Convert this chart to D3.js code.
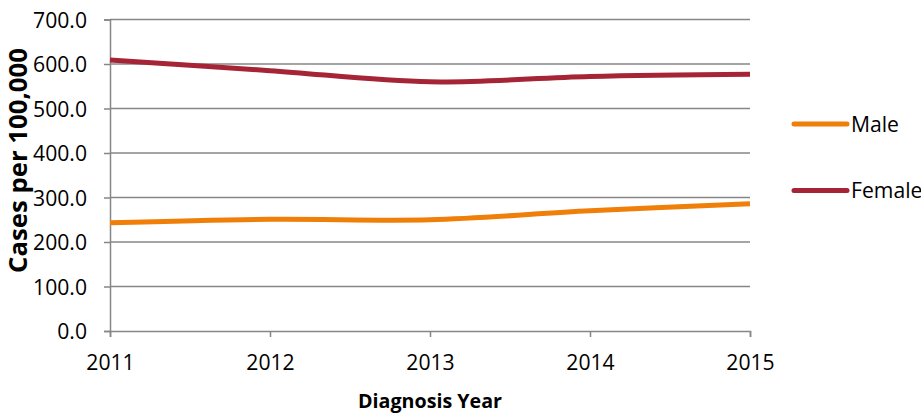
<!DOCTYPE html>
<html><head><meta charset="utf-8">
<script src="https://cdn.jsdelivr.net/npm/d3@7"></script>
<style>body{margin:0;background:#fff}svg{display:block}text{font-family:"Open Sans","Liberation Sans",sans-serif;fill:#000}</style>
</head><body><svg id="c" width="921" height="415"></svg>
<script>
const years = [2011, 2012, 2013, 2014, 2015];
const male = [243, 251, 250, 270, 286];
const female = [609, 585, 560, 572, 577];
const yTicks = [0, 100, 200, 300, 400, 500, 600, 700];
const seriesNames = ["Male", "Female"];
const colors = ["#F07F09", "#A52536"];

const svg = d3.select("#c");
const x = d3.scaleLinear().domain([2011, 2015]).range([110, 750]);
const y = d3.scaleLinear().domain([0, 700]).range([331, 19.5]);

function fitSize(node, fs, target) {
  return fs * target / node.getComputedTextLength();
}

svg.append("g").selectAll("line").data(yTicks.filter(d => d > 0)).join("line")
  .attr("x1", 110).attr("x2", 750).attr("y1", d => y(d)).attr("y2", d => y(d))
  .attr("stroke", "#868686").attr("stroke-width", 1.5);

const yAxis = svg.append("g").attr("transform", "translate(110,0)")
  .call(d3.axisLeft(y).tickValues(yTicks).tickFormat(d3.format(".1f")).tickSize(6).tickPadding(23 - 6 - 6));
const xAxis = svg.append("g").attr("transform", "translate(0,331)")
  .call(d3.axisBottom(x).tickValues(years).tickFormat(d3.format("d")).tickSize(6).tickPadding(25.5));
[yAxis, xAxis].forEach(g => {
  g.attr("font-size", null).attr("font-family", null);
  g.select(".domain").attr("stroke", "#868686").attr("stroke-width", 1.5);
  g.selectAll(".tick line").attr("stroke", "#868686").attr("stroke-width", 1.5);
  g.selectAll("text").style("font-size", "20px").style("font-family", "'Open Sans'").attr("fill", "#000").attr("dy", "0.36em");
});
// calibrate tick label size against reference label width
const sample = yAxis.select(".tick:last-of-type text").node();
const tickFs = fitSize(sample, 20, 54);
yAxis.selectAll("text").style("font-size", tickFs + "px");
xAxis.selectAll("text").style("font-size", tickFs + "px");
yAxis.selectAll("text").attr("x", -23 + 23 - 6 - 6 + 0).attr("x", -(23));

const line = d3.line().x((d, i) => x(years[i])).y(d => y(d)).curve(d3.curveCatmullRom.alpha(0));
[male, female].forEach((s, k) => {
  svg.append("path").attr("d", line(s)).attr("fill", "none")
    .attr("stroke", colors[k]).attr("stroke-width", 5).attr("stroke-linecap", "butt");
});

const leg = svg.append("g");
seriesNames.forEach((n, k) => {
  const ly = 124 + k * 66.5;
  leg.append("line").attr("x1", 794).attr("x2", 847).attr("y1", ly).attr("y2", ly)
    .attr("stroke", colors[k]).attr("stroke-width", 5).attr("stroke-linecap", "round");
  leg.append("text").attr("x", 851).attr("y", ly).attr("dy", "0.36em").style("font-size", tickFs + "px").text(n);
});

const yt = svg.append("text").attr("transform", "translate(18,160.5) rotate(-90)").attr("text-anchor", "middle")
  .attr("dy", "0.36em").attr("font-size", 20).attr("font-weight", "bold").text("Cases per 100,000");
yt.attr("font-size", fitSize(yt.node(), 20, 225));
const xt = svg.append("text").attr("x", 430).attr("y", 401).attr("text-anchor", "middle")
  .attr("dy", "0.36em").attr("font-size", 20).attr("font-weight", "bold").text("Diagnosis Year");
xt.attr("font-size", fitSize(xt.node(), 20, 144));
</script></body></html>
